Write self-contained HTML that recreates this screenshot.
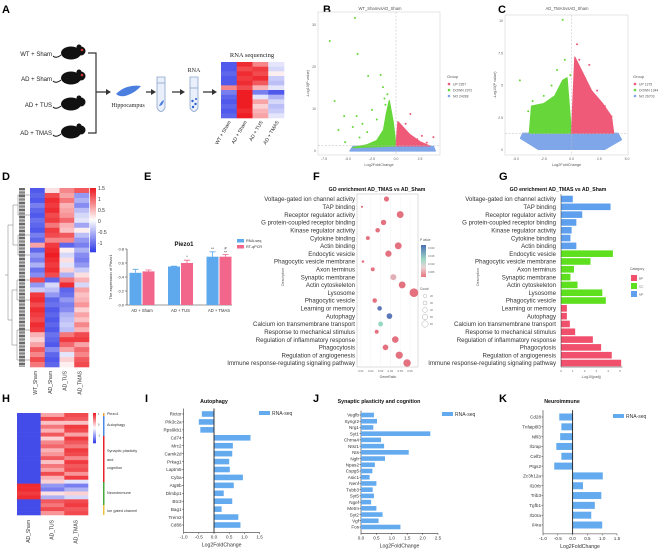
<!DOCTYPE html>
<html><head><meta charset="utf-8"><style>
html,body{margin:0;padding:0;background:#fff;}
svg{display:block;}
text{font-family:"Liberation Sans",sans-serif;}
</style></head><body>
<svg id="s" width="660" height="550" viewBox="0 0 660 550" xmlns="http://www.w3.org/2000/svg">
<g font-weight="bold" font-size="11" fill="#000">
<text x="2" y="13">A</text>
<text x="323" y="13">B</text>
<text x="498" y="13">C</text>
<text x="2" y="180">D</text>
<text x="144" y="180">E</text>
<text x="313" y="180">F</text>
<text x="499" y="180">G</text>
<text x="2" y="402">H</text>
<text x="145" y="402">I</text>
<text x="313" y="402">J</text>
<text x="499" y="402">K</text>
</g>
<!-- Panel A schematic -->
<g font-family="Liberation Serif, serif">
<g font-size="6" text-anchor="end" fill="#222" style="font-family:'Liberation Serif',serif">
<text x="52" y="56">WT + Sham</text>
<text x="52" y="81">AD + Sham</text>
<text x="52" y="107">AD + TUS</text>
<text x="52" y="135">AD + TMAS</text>
</g>
<g fill="#111">
<g transform="translate(71,53)"><ellipse rx="10" ry="6.5"/><circle cx="10" cy="-2" r="4.5"/><circle cx="8" cy="-6" r="2.5"/><path d="M-10 2 Q-15 6 -18 3" stroke="#111" fill="none"/><circle cx="11" cy="-3" r="1.3" fill="#c33"/></g>
<g transform="translate(71,78)"><ellipse rx="10" ry="6.5"/><circle cx="10" cy="-2" r="4.5"/><circle cx="8" cy="-6" r="2.5"/><path d="M-10 2 Q-15 6 -18 3" stroke="#111" fill="none"/><circle cx="11" cy="-3" r="1.3" fill="#c33"/></g>
<g transform="translate(71,104)"><ellipse rx="10" ry="6.5"/><circle cx="10" cy="-2" r="4.5"/><circle cx="8" cy="-6" r="2.5"/><path d="M-10 2 Q-15 6 -18 3" stroke="#111" fill="none"/></g>
<g transform="translate(71,132)"><ellipse rx="10" ry="6.5"/><circle cx="10" cy="-2" r="4.5"/><circle cx="8" cy="-6" r="2.5"/><path d="M-10 2 Q-15 6 -18 3" stroke="#111" fill="none"/></g>
</g>
<path d="M88 53 H96 V133 H88 M96 92 H108" stroke="#333" stroke-width="1.2" fill="none"/>
<path d="M106 89 L111 92 L106 95Z M151 89 L156 92 L151 95Z M180 89 L185 92 L180 95Z M212 89 L217 92 L212 95Z" fill="#333"/>
<path d="M146 92 H152 M172 92 H181 M203 92 H213" stroke="#333" stroke-width="1.2"/>
<path d="M116 94 Q126 84 141 86 Q136 92 128 95 Q121 98 116 94Z" fill="#4a7fe0"/>
<text x="128" y="107" font-size="6" text-anchor="middle" fill="#222" style="font-family:'Liberation Serif',serif">Hippocampus</text>
<path d="M157 77 V108 Q161 115 165 108 V77Z" fill="#eaf0fb" stroke="#8aa4cc" stroke-width="0.8"/>
<path d="M157 83 H165" stroke="#8aa4cc" stroke-width="0.8"/>
<path d="M159 106 Q161 101 164 100 Q163 106 159 106Z" fill="#4a7fe0"/>
<path d="M190 77 V108 Q194 115 198 108 V77Z" fill="#eaf0fb" stroke="#8aa4cc" stroke-width="0.8"/>
<path d="M190 88 H198" stroke="#8aa4cc" stroke-width="0.8"/>
<g fill="#2f5fd0"><circle cx="192.5" cy="101" r="1.2"/><circle cx="195.5" cy="104" r="1.2"/><circle cx="193" cy="107" r="1.2"/><circle cx="196" cy="99" r="1"/></g>
<text x="194" y="72" font-size="6" text-anchor="middle" fill="#222" style="font-family:'Liberation Serif',serif">RNA</text>
<text x="252" y="57" font-size="6.5" text-anchor="middle" fill="#222" style="font-family:'Liberation Serif',serif">RNA sequencing</text>
<g id="aHeat"></g>
<g font-size="5" fill="#222" style="font-family:'Liberation Serif',serif">
<text transform="translate(231,122) rotate(-60)" text-anchor="end">WT + Sham</text>
<text transform="translate(247,122) rotate(-60)" text-anchor="end">AD + Sham</text>
<text transform="translate(263,122) rotate(-60)" text-anchor="end">AD + TUS</text>
<text transform="translate(279,122) rotate(-60)" text-anchor="end">AD + TMAS</text>
</g>
</g>
<!-- D dendrogram decorative -->
<g stroke="#555" stroke-width="0.4" fill="none">
<path d="M5 275 H8 M8 225 V320 M8 225 H13 M8 320 H12 M13 205 V245 M13 205 H18 M13 245 H18 M12 290 V345 M12 290 H17 M12 345 H17 M18 195 V215 M18 235 V255 M17 280 V300 M17 330 V360 M18 195 H30 M18 215 H30 M18 235 H30 M18 255 H30 M17 280 H30 M17 300 H30 M17 330 H30 M17 360 H30"/>
<path d="M22 188 V367" stroke="#111" stroke-width="6" stroke-dasharray="0.6 0.8"/>
</g>
<g id="dHeat"></g>
<g id="hHeat"></g>
<g id="charts"></g>
</svg>
<script>
// ===== DATA =====
const aHeatCols = ["WT + Sham","AD + Sham","AD + TUS","AD + TMAS"];
const aHeatWT = [-1.3,-1.3,-1.2,-1.3,-1.3,0.8,-1,-1.2,-1.3,-1.2,-1.3,-1.2];
const aHeatADSham = [1.4,1.2,1.4,1.3,1.4,1.2,1.5,1.5,1.5,1.5,1.4,1.5];
const aHeatTUS = [0.8,1.3,1.2,1.4,1.1,0.5,-1,-0.2,0.6,0.3,0.5,0.6];
const aHeatTMAS = [-0.2,-0.3,0.1,-0.4,-0.5,-0.2,-1.3,-0.6,-0.3,-0.5,-0.4,-0.2];

const dCols = ["WT_Sham","AD_Sham","AD_TUS","AD_TMAS"];
const dWT = [-1.3,-1.2,-1.3,-1,-1.2,-1.3,-1.1,-1.2,-1.3,-1,-1.2,0.6,-1.2,-0.8,-1,-0.6,-1.1,-0.9,1.2,-0.8,-0.4,1.3,1.4,1.2,1.4,1.3,1.2,1.4,1.3,0.5,0.3,0.6,1.1,0.8,1.2,0.9];
const dADSham = [0.2,1.2,1.4,1.3,1.4,1.2,1.3,0.9,1.3,1.2,0.8,1.3,1.4,1.5,1.4,1.3,1.4,1.2,-1.2,-0.3,-0.5,-0.8,-1.2,-1.1,-1.3,-1.2,-1.3,-1.2,-1.3,-1.1,-1.2,-1.3,-0.9,-1.2,-1.3,-1.2];
const dTUS = [0.8,0.6,0.9,0.5,0.6,0.7,1.0,0.5,0.4,1.1,0.8,-1.2,0.1,-0.3,0.2,-0.2,0.3,-0.6,0.9,1.4,-1.2,-1.1,-0.8,-1.0,-0.9,-0.6,-0.5,-0.4,-0.5,0.9,1.3,1.0,0.6,-0.2,0.3,0.1];
const dTMAS = [1.1,-0.8,-0.6,-0.9,-0.5,-0.3,-0.2,-0.7,0.1,-0.5,-0.8,-1.0,-0.6,-0.9,-1.0,-0.8,-0.4,0.2,0.5,-0.3,0.6,0.4,0.5,0.7,0.3,0.6,0.4,0.8,0.5,1.2,1.3,0.6,1.0,0.8,1.1,1.2];
const dColorTicks = ["1.5","1","0.5","0","-0.5","-1"];

const hCols = ["AD_Sham","AD_TUS","AD_TMAS"];
const hSham = [-1.4,-1.4,-1.4,-1.4,-1.4,-1.4,-1.4,-1.4,-1.4,-1.4,-1.4,-1.4,-1.4,-1.4,-1.4,-1.4,-1.4,-1.4,1.4,1.4,1.3,1.4,-1.4,-1.4,-1.4,-1.4];
const hTUS = [0.6,1.2,0.4,0.9,0.5,1.1,0.3,0.8,1.0,0.5,0.7,1.1,0.4,0.9,0.6,1.2,0.5,0.3,-0.8,-1.0,0.2,-0.6,1.1,0.9,1.2,0.7];
const hTMAS = [1.2,1.1,0.4,1.3,1.2,0.6,1.3,1.1,0.9,1.3,1.2,0.8,1.3,1.1,1.2,0.7,1.3,-0.2,-1.0,-0.6,0.3,-0.3,1.2,1.3,1.1,1.2];

// Volcano B (x=log2FC, y=-log10 p)
const bDownPts = [[-4.27,31.7],[-6.9,26.2],[-4.0,23.1],[-2.9,17.9],[-1.6,18.1],[-6.4,11.9],[-5.4,8.3],[-4.1,8.3],[-1.35,15.2],[-2.5,9.8],[-5.3,2.1],[-4.5,5.7],[-3.5,6.5],[-3.0,4.5],[-1.2,12.5],[-0.9,13.5],[-2.0,7.5],[-3.8,3.2],[-6.0,5.0],[-1.1,11]];
const bUpPts = [[1.5,8.8],[3.9,3.3],[2.2,2.8],[1.0,6.5],[3.2,2.0],[0.6,5.5],[2.7,3.6]];
const bDownCloud = [[-4.5,0.8],[-3,1.5],[-2,2.5],[-1.3,5],[-1,9],[-0.7,12],[-0.3,7],[0,1.2]];
const bUpCloud = [[0,1.2],[0.2,7],[0.6,6],[1.4,4],[2.5,2.2],[3.5,1.2]];
const bNoCloud = [[-4.8,0],[-4.5,1.1],[0,1.3],[3.9,1.1],[4.1,0]];
const bLegend = ["UP 2357","DOWN 2972","NO 24288"];
const bXTicks = [-7.5,-5,-2.5,0,2.5];
const bYTicks = [0,10,20,30];

// Volcano C
const cDownPts = [[-0.8,10.1],[-4.65,5.4],[-1.3,6.2],[-0.1,5.8],[-3.5,3.8],[-2.5,4.2],[-1.8,5.0],[-3.9,3.0],[-0.6,7.0]];
const cUpPts = [[0.7,7.0],[1.6,6.6],[0.5,8.2],[2.3,4.6],[3.0,3.4],[1.2,5.6],[3.6,2.6]];
const cDownCloud = [[-3.8,1.3],[-3.6,3.4],[-2.5,3.6],[-1.5,4.2],[-0.8,5.4],[-0.4,5.6],[0,1.3]];
const cUpCloud = [[0,1.3],[0.3,7.2],[1.0,6.0],[1.8,4.6],[2.8,3.6],[3.6,2.6],[3.8,1.3]];
const cNoCloud = [[-4.6,0.9],[-4.4,1.3],[4.2,1.3],[4.5,0.8],[3,0.05],[-3,0.05]];
const cLegend = ["UP 1375","DOWN 1344","NO 26703"];
const cXTicks = [-5,-2.5,0,2.5,5];
const cYTicks = [0,2.5,5,7.5,10];

// E Piezo1
const eGroups = ["AD + Sham","AD + TUS","AD + TMAS"];
const eRnaSeq = [0.46,0.55,0.69];
const eRnaErr = [0.05,0.005,0.07];
const eQpcr = [0.48,0.60,0.69];
const eQpcrErr = [0.02,0.04,0.03];
const eYTicks = [0,0.2,0.4,0.6,0.8];

// F/G GO terms
const goTerms = ["Voltage-gated ion channel activity","TAP binding","Receptor regulator activity","G protein-coupled receptor binding","Kinase regulator activity","Cytokine binding","Actin binding","Endocytic vesicle","Phagocytic vesicle membrane","Axon terminus","Synaptic membrane","Actin cytoskeleton","Lysosome","Phagocytic vesicle","Learning or memory","Autophagy","Calcium ion transmembrane transport","Response to mechanical stimulus","Regulation of inflammatory response","Phagocytosis","Regulation of angiogenesis","Immune response-regulating signaling pathway"];
const goGeneRatio = [0.036,0.011,0.050,0.033,0.027,0.017,0.048,0.038,0.012,0.022,0.043,0.052,0.064,0.024,0.029,0.039,0.030,0.026,0.045,0.035,0.049,0.057];
const goCount = [30,5,45,32,25,20,45,40,8,20,38,45,60,25,25,35,28,20,42,35,48,50];
const goPval = [0.001,0.001,0.001,0.001,0.001,0.001,0.001,0.001,0.001,0.001,0.006,0.001,0.001,0.001,0.021,0.020,0.012,0.001,0.001,0.001,0.001,0.001];
const goNegLogPadj = [1.0,4.2,1.8,1.3,0.9,0.8,1.3,4.4,2.5,1.1,0.8,1.4,3.5,3.8,0.5,0.5,0.75,1.2,2.7,3.4,4.3,5.1];
const goCategory = ["MF","MF","MF","MF","MF","MF","MF","CC","CC","CC","CC","CC","CC","CC","BP","BP","BP","BP","BP","BP","BP","BP"];
const fXTicks = [0.01,0.02,0.03,0.04,0.05,0.06];
const gXTicks = [0,1,2,3,4,5];
const countLegend = [20,30,40,50,60];

// I/J/K
const iGenes = ["Rictor","Pik3c2a","Rps6kb1","Cd74","Mrc2","Camk2d","Prkag1","Laptm5","Cyba","Atg9b","Dlmbp1","Btc3","Bag1","Trem2","Cd68"];
const iFC = [-0.4,-0.5,-0.45,1.2,0.62,0.6,0.5,0.52,0.95,0.65,0.32,0.6,0.25,0.8,0.87];
const jGenes = ["Vegfb","Syngr2","Nrg1","Syt1","Chrna4","Ntsr1","Nts","Ngfr","Npas2","Cspg5","Asic1","Nenf","Tubb3","Syt5","Ngef","Metrn","Syt2","Vgf","Fos"];
const jFC = [0.42,0.52,0.4,2.25,0.65,0.75,1.55,0.78,0.45,0.37,0.28,0.5,0.38,0.42,0.33,0.5,0.7,0.57,1.28];
const kGenes = ["Cd28","Tnfaip8l3","Nfil3","Il1rap","Celf2","Ptgs2","Zc3h12a","Il10rb","Trib3","Tgfb1","Il10ra","Il4ra"];
const kFC = [-0.45,-0.38,-0.42,-0.55,-0.38,-0.62,1.02,0.35,0.97,0.75,0.63,1.0];
const fcTicksIK = [-1.0,-0.5,0.0,0.5,1.0,1.5];
const fcTicksJ = [0.0,0.5,1.0,1.5,2.0,2.5];

// ===== HELPERS =====
const NS = "http://www.w3.org/2000/svg";
const root = document.getElementById("charts");
function mk(tag, attrs, parent){const e=document.createElementNS(NS,tag);for(const k in attrs)e.setAttribute(k,attrs[k]);(parent||root).appendChild(e);return e;}
function heatColor(v){let t=Math.max(-1,Math.min(1,v/1.5));let r,g,b;if(t<0){t=-t;r=255+(54-255)*t;g=255+(64-255)*t;b=255+(232-255)*t;}else{r=255+(238-255)*t;g=255+(29-255)*t;b=255+(36-255)*t;}return `rgb(${r|0},${g|0},${b|0})`;}
function txt(x,y,s,size,anchor,parent,fill){const e=mk("text",{x:x,y:y,"font-size":size,"text-anchor":anchor||"start",fill:fill||"#333"},parent);e.textContent=s;return e;}

function drawHeat(parentId, cols, x0, x1, y0, y1){
  const g=document.getElementById(parentId);
  const n=cols[0].length, cw=(x1-x0)/cols.length, rh=(y1-y0)/n;
  cols.forEach((col,ci)=>col.forEach((v,ri)=>{
    const r=mk("rect",{x:x0+ci*cw,y:y0+ri*rh,width:cw+0.3,height:rh+0.3,fill:heatColor(v)},g);
    
    
  }));
}
drawHeat("aHeat",[aHeatWT,aHeatADSham,aHeatTUS,aHeatTMAS],221,284,62,118);
drawHeat("dHeat",[dWT,dADSham,dTUS,dTMAS],30,89,188,367);
drawHeat("hHeat",[hSham,hTUS,hTMAS],17,88,413,515);

// colorbars
function colorbar(x,y,w,h,ticks,gid,fs){
  for(let i=0;i<40;i++){const v=1.5-3*i/39;const r=mk("rect",{x:x,y:y+i*h/40,width:w,height:h/40+0.3,fill:heatColor(v)});}
  ticks.forEach((t,i)=>{const e=txt(x+w+2,y+2+i*(h/(ticks.length-0.2)),t,fs,"start");});
}
colorbar(90,188,6,64,dColorTicks,"dcb",5);
colorbar(93,413,3,30,["1","0","-1"],"hcb",2.5);
dCols.forEach((c,i)=>{const e=mk("text",{transform:`translate(${37+i*14.75},371) rotate(-90)`,"font-size":5,"text-anchor":"end",fill:"#333"});e.textContent=c;});
hCols.forEach((c,i)=>{const e=mk("text",{transform:`translate(${30+i*23.7},520) rotate(-90)`,"font-size":5,"text-anchor":"end",fill:"#333"});e.textContent=c;});
// H category bars
const hCatNames=["Piezo1","Autophagy","Synaptic plasticity","and","cognition","Neuroimmune","Ion gated channel"];
[["#f0a030",413,416],["#4d88e0",416,436],["#e8202a",436,482],["#44a83a",482,505],["#f2c040",505,515]].forEach(c=>{const r=mk("rect",{x:103,y:c[1],width:1.5,height:c[2]-c[1],fill:c[0]});});
[[415,0],[426,1],[452,2],[461,3],[469,4],[494,5],[512,6]].forEach(p=>{const e=txt(107,p[0],hCatNames[p[1]],3.8,"start");});

// ===== VOLCANO =====
function volcano(cfg){
  const g=mk("g",{});
  
  
  const sx=v=>cfg.px0+(v-cfg.xmin)/(cfg.xmax-cfg.xmin)*(cfg.px1-cfg.px0);
  const sy=v=>cfg.py0-(v-cfg.ymin)/(cfg.ymax-cfg.ymin)*(cfg.py0-cfg.py1);
  const frame=mk("rect",{x:cfg.fx0,y:cfg.fy0,width:cfg.fx1-cfg.fx0,height:cfg.fy1-cfg.fy0,fill:"#fff",stroke:"#ccc","stroke-width":0.5},g);
  
  const poly=(pts,col,nm)=>{const p=mk("polygon",{points:pts.map(d=>sx(d[0])+","+sy(d[1])).join(" "),fill:col,stroke:col,"stroke-width":1.2,"stroke-linejoin":"round"},g);};
  poly(cfg.noCloud,"#7fa6e8","no-change-cloud");
  poly(cfg.downCloud,"#66d63a","down-cloud");
  poly(cfg.upCloud,"#ee5a78","up-cloud");
  cfg.downPts.forEach(d=>{const c=mk("circle",{cx:sx(d[0]),cy:sy(d[1]),r:1,fill:"#66d63a"},g);});
  cfg.upPts.forEach(d=>{const c=mk("circle",{cx:sx(d[0]),cy:sy(d[1]),r:1,fill:"#ee5a78"},g);});
  mk("line",{x1:sx(0),x2:sx(0),y1:cfg.fy0,y2:cfg.fy1,stroke:"#bbb","stroke-width":0.5,"stroke-dasharray":"2 1.5"},g);
  mk("line",{x1:cfg.fx0,x2:cfg.fx1,y1:sy(cfg.thr),y2:sy(cfg.thr),stroke:"#bbb","stroke-width":0.5,"stroke-dasharray":"2 1.5"},g);
  cfg.xTicks.forEach(t=>{const e=txt(sx(t),cfg.fy1+5,t.toFixed(1),3.5,"middle",g,"#666");});
  cfg.yTicks.forEach(t=>{const e=txt(cfg.fx0-2,sy(t)+1,t%1?t.toFixed(1):String(t),3.5,"end",g,"#666");});
  const xt=txt((cfg.fx0+cfg.fx1)/2,cfg.fy1+11,"Log2FoldChange",3.8,"middle",g,"#555");
  const yt=mk("text",{transform:`translate(${cfg.fx0-9},${(cfg.fy0+cfg.fy1)/2}) rotate(-90)`,"font-size":3.8,"text-anchor":"middle",fill:"#555"},g);yt.textContent="-Log10(P value)";
  const ti=txt(cfg.titleX,10,cfg.title,4.2,"middle",g,"#555");
  const lg=txt(cfg.lx,78,"Group",4,"start",g,"#555");
  ["#ee5a78","#66d63a","#7fa6e8"].forEach((c,i)=>{const d=mk("circle",{cx:cfg.lx+2,cy:84+i*6,r:1.3,fill:c},g);const e=txt(cfg.lx+6,85.5+i*6,cfg.legend[i],3.4,"start",g,"#555");});
}
volcano({name:"volcano-wt-vs-ad",title:"WT_ShamvsAD_Sham",titleX:380,xmin:-7.5,xmax:0,px0:324,px1:396,ymin:0,ymax:30,py0:151,py1:25,fx0:318,fx1:440,fy0:12,fy1:155,thr:1.3,downCloud:bDownCloud,upCloud:bUpCloud,noCloud:bNoCloud,downPts:bDownPts,upPts:bUpPts,xTicks:bXTicks,yTicks:bYTicks,lx:447,legend:bLegend});
volcano({name:"volcano-tmas-vs-ad",title:"AD_TMASvsAD_Sham",titleX:567,xmin:-5,xmax:5,px0:516,px1:627,ymin:0,ymax:10,py0:150,py1:21,fx0:505,fx1:628,fy0:15,fy1:155,thr:1.3,downCloud:cDownCloud,upCloud:cUpCloud,noCloud:cNoCloud,downPts:cDownPts,upPts:cUpPts,xTicks:cXTicks,yTicks:cYTicks,lx:633,legend:cLegend});

// ===== E BAR CHART =====
(function(){
  const g=mk("g",{});
  
  
  const x0=127,x1=232,y0=305,sy=v=>y0-v*70;
  const cx=i=>142+i*38.5;
  mk("line",{x1:x0,x2:x0,y1:sy(0.8),y2:y0,stroke:"#333","stroke-width":0.6},g);
  mk("line",{x1:x0,x2:x1,y1:y0,y2:y0,stroke:"#333","stroke-width":0.6},g);
  eYTicks.forEach(t=>{mk("line",{x1:x0-2,x2:x0,y1:sy(t),y2:sy(t),stroke:"#333","stroke-width":0.5},g);const e=txt(x0-3,sy(t)+1.5,t.toFixed(1),4,"end",g);});
  const yt=mk("text",{transform:`translate(112,277) rotate(-90)`,"font-size":4,"text-anchor":"middle",fill:"#333"},g);yt.textContent="The expression of Piezo1";
  const t=txt(184,246,"Piezo1",6,"middle",g,"#111");t.setAttribute("font-weight","bold");
  eGroups.forEach((n,i)=>{
    const b1=mk("rect",{x:cx(i)-12.5,y:sy(eRnaSeq[i]),width:12,height:eRnaSeq[i]*70,fill:"#5ea8ee"},g);
    
    const b2=mk("rect",{x:cx(i)+0.5,y:sy(eQpcr[i]),width:12,height:eQpcr[i]*70,fill:"#f3668c"},g);
    
    [[cx(i)-6.5,eRnaSeq[i],eRnaErr[i],"#5ea8ee"],[cx(i)+6.5,eQpcr[i],eQpcrErr[i],"#f3668c"]].forEach(d=>{
      mk("path",{d:`M${d[0]} ${sy(d[1])} V${sy(d[1]+d[2])} M${d[0]-3} ${sy(d[1]+d[2])} H${d[0]+3}`,stroke:d[3],"stroke-width":0.8,fill:"none"},g);
    });
    const l=txt(cx(i),312,n,4.2,"middle",g);
  });
  txt(cx(1)+6.5,sy(eQpcr[1]+eQpcrErr[1])-2,"*",4,"middle",g);
  txt(cx(2)-6.5,sy(eRnaSeq[2]+eRnaErr[2])-2,"**",4,"middle",g);
  txt(cx(2)+6.5,sy(eQpcr[2]+eQpcrErr[2])-5,"#",4,"middle",g);
  txt(cx(2)+6.5,sy(eQpcr[2]+eQpcrErr[2])-1,"**",4,"middle",g);
  [["#5ea8ee","RNA-seq",242],["#f3668c","RT-qPCR",248]].forEach(d=>{const r=mk("rect",{x:237,y:d[2]-3,width:7,height:3.5,fill:d[0]},g);const e=txt(246,d[2],d[1],3.8,"start",g);});
})();

// ===== F DOT PLOT =====
const rowY=i=>199+i*7.81;
(function(){
  const g=mk("g",{});
  
  
  const sx=v=>361+(v-0.01)*980;
  const fr=mk("rect",{x:357,y:194,width:61,height:173,fill:"#fff",stroke:"#bbb","stroke-width":0.5},g);
  fXTicks.forEach(t=>{mk("line",{x1:sx(t),x2:sx(t),y1:194,y2:367,stroke:"#eee","stroke-width":0.4},g);const e=txt(sx(t),372,t.toFixed(2),2.8,"middle",g,"#666");});
  const xt=txt(388,378,"GeneRatio",3.5,"middle",g,"#555");
  const ti=txt(377,191,"GO enrichment AD_TMAS vs AD_Sham",5.2,"middle",g,"#111");ti.setAttribute("font-weight","bold");
  const dt=mk("text",{transform:"translate(284,277) rotate(-90)","font-size":3.5,"text-anchor":"middle",fill:"#555"},g);dt.textContent="Description";
  const pcol=p=>p>=0.018?"#5c78b8":p>=0.01?"#97d8c4":p>=0.005?"#e0b0b6":"#e4717f";
  goTerms.forEach((t,i)=>{
    const l=txt(355,rowY(i)+2.2,t,6.1,"end",g,"#333");
    const c=mk("circle",{cx:sx(goGeneRatio[i]),cy:rowY(i),r:0.8+goCount[i]/17,fill:pcol(goPval[i])},g);
  });
  const defs=mk("defs",{},g);const lgr=mk("linearGradient",{id:"pg",x1:0,y1:0,x2:0,y2:1},defs);
  [["0","#4a6fb5"],["0.45","#9ed9c4"],["0.7","#e8d4d6"],["1","#e8727d"]].forEach(s=>mk("stop",{offset:s[0],"stop-color":s[1]},lgr));
  const cb=mk("rect",{x:421,y:245,width:5,height:32,fill:"url(#pg)"},g);
  const pt=txt(420,241,"P value",3.2,"start",g,"#555");
  ["0.020","0.015","0.010","0.005"].forEach((s,i)=>{const e=txt(428,249+i*8,s,2.6,"start",g,"#666");});
  const ct=txt(420,290,"Count",3.2,"start",g,"#555");
  countLegend.forEach((c,i)=>{const cc=mk("circle",{cx:425,cy:296+i*7,r:0.8+c/25,fill:"none",stroke:"#999","stroke-width":0.4},g);const e=txt(430,297+i*7,String(c),2.6,"start",g,"#666");});
})();

// ===== G BAR =====
(function(){
  const g=mk("g",{});
  
  
  const sx=v=>561+v*11.8;
  const cc={BP:"#f0506c",CC:"#5fe01f",MF:"#5ea0ee"};
  const ti=txt(558,191,"GO enrichment AD_TMAS vs AD_Sham",5.2,"middle",g,"#111");ti.setAttribute("font-weight","bold");
  const dt=mk("text",{transform:"translate(479,277) rotate(-90)","font-size":3.5,"text-anchor":"middle",fill:"#555"},g);dt.textContent="Description";
  goTerms.forEach((t,i)=>{
    const l=txt(556,rowY(i)+2.2,t,6.1,"end",g,"#333");
    const b=mk("rect",{x:sx(0),y:rowY(i)-3.3,width:goNegLogPadj[i]*11.8,height:6.6,fill:cc[goCategory[i]]},g);
  });
  mk("line",{x1:sx(0),x2:sx(0),y1:194,y2:367,stroke:"#333","stroke-width":0.5},g);
  mk("line",{x1:sx(0),x2:sx(5.2),y1:367,y2:367,stroke:"#333","stroke-width":0.5},g);
  gXTicks.forEach(t=>{const e=txt(sx(t),372,String(t),2.8,"middle",g,"#666");});
  const xt=txt(591,378,"-Log10(padj)",3.5,"middle",g,"#555");
  const lt=txt(630,270,"Category",3.5,"start",g,"#555");
  ["BP","CC","MF"].forEach((k,i)=>{const r=mk("rect",{x:631,y:275+i*8,width:6,height:6,fill:cc[k]},g);const e=txt(639,279.5+i*8,k,3,"start",g,"#555");});
})();

// ===== I/J/K =====
function hbar(cfg){
  const g=mk("g",{});
  
  
  const sx=v=>cfg.zero+v*cfg.k;
  const n=cfg.genes.length, step=(cfg.yLast-cfg.yFirst)/(n-1);
  const left=sx(cfg.ticks[0]), right=sx(cfg.ticks[cfg.ticks.length-1]);
  const axisY=cfg.yLast+step*0.7+2;
  mk("line",{x1:left,x2:left,y1:cfg.yFirst-step*0.7,y2:axisY,stroke:"#333","stroke-width":0.6},g);
  mk("line",{x1:left,x2:right,y1:axisY,y2:axisY,stroke:"#333","stroke-width":0.6},g);
  cfg.ticks.forEach(t=>{mk("line",{x1:sx(t),x2:sx(t),y1:axisY,y2:axisY+1.5,stroke:"#333","stroke-width":0.5},g);const e=txt(sx(t),axisY+6,t.toFixed(1),4.6,"middle",g);});
  const xt=txt((left+right)/2,axisY+14,"Log2FoldChange",5.2,"middle",g);
  const ti=txt(cfg.titleX,403,cfg.title,5.3,"middle",g,"#111");ti.setAttribute("font-weight","bold");
  cfg.genes.forEach((gn,i)=>{
    const y=cfg.yFirst+i*step, v=cfg.vals[i];
    const b=mk("rect",{x:Math.min(sx(0),sx(v)),y:y-cfg.bh/2,width:Math.abs(v*cfg.k),height:cfg.bh,fill:"#64aaee"},g);
    
    
    mk("line",{x1:left-1.5,x2:left,y1:y,y2:y,stroke:"#333","stroke-width":0.5},g);
    const l=txt(left-2,y+1.7,gn,4.6,"end",g);
  });
  if(cfg.zero>left+1) mk("line",{x1:sx(0),x2:sx(0),y1:cfg.yFirst-step*0.7,y2:axisY,stroke:"#222","stroke-width":0.9},g);
  const sw=mk("rect",{x:cfg.lx,y:cfg.ly-3,width:11,height:4,fill:"#64aaee"},g);
  const le=txt(cfg.lx+13,cfg.ly+1,"RNA-seq",5,"start",g);
}
hbar({name:"autophagy-chart",title:"Autophagy",titleX:214,genes:iGenes,vals:iFC,zero:214,k:30.4,ticks:fcTicksIK,yFirst:414,yLast:525,bh:5.6,lx:259,ly:414});
hbar({name:"synaptic-chart",title:"Synaptic plasticity and cognition",titleX:379,genes:jGenes,vals:jFC,zero:361,k:30.8,ticks:fcTicksJ,yFirst:415,yLast:527,bh:4.6,lx:442,ly:415});
hbar({name:"neuroimmune-chart",title:"Neuroimmune",titleX:562,genes:kGenes,vals:kFC,zero:572.6,k:29.6,ticks:fcTicksIK,yFirst:417,yLast:525,bh:7,lx:613,ly:417});
</script>
</body></html>
